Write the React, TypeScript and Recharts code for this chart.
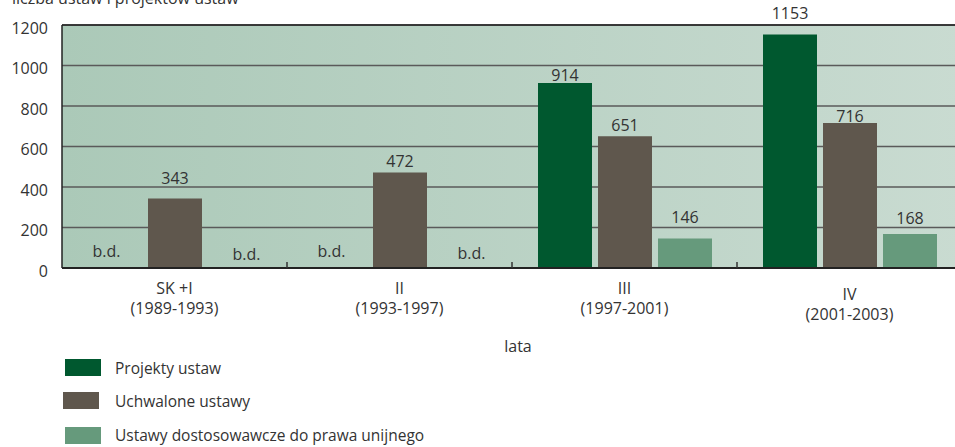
import React from 'react';
import { BarChart, Bar, XAxis, YAxis, CartesianGrid, ReferenceLine, LabelList } from 'recharts';

const kadencje = ['SK +I', 'II', 'III', 'IV'];
const okresy = ['(1989-1993)', '(1993-1997)', '(1997-2001)', '(2001-2003)'];
const projektyUstaw: (number | null)[] = [null, null, 914, 1153];
const uchwaloneUstawy: (number | null)[] = [343, 472, 651, 716];
const ustawyDostosowawcze: (number | null)[] = [null, null, 146, 168];
const yTicks = [0, 200, 400, 600, 800, 1000, 1200];
const yAxisTitle = 'liczba ustaw i projektów ustaw';
const xAxisTitle = 'lata';
const missingText = 'b.d.';

const FONT = '"Open Sans", "Noto Sans", sans-serif';
const TEXT = '#333333';
const BAR_SIZE = 54;
const BAR_GAP = 6;
const CHART_W = 975;
const CHART_H = 447;
const MARGIN = { top: 25, right: 13, left: 0, bottom: 89 };
const Y_AXIS_W = 62;
const X_AXIS_H = 90;
const PLOT_W = CHART_W - MARGIN.left - MARGIN.right - Y_AXIS_W;
const BAND = PLOT_W / kadencje.length;

const seriesDefs = [
  { key: 'projekty', name: 'Projekty ustaw', values: projektyUstaw, color: '#00582f', slot: -1, bdDx: -8, gaps: [11, 11, 2, 16] },
  { key: 'uchwalone', name: 'Uchwalone ustawy', values: uchwaloneUstawy, color: '#5f574d', slot: 0, bdDx: 0, gaps: [15, 5, 5, 1] },
  { key: 'dostosowawcze', name: 'Ustawy dostosowawcze do prawa unijnego', values: ustawyDostosowawcze, color: '#669a7c', slot: 1, bdDx: 12, gaps: [8, 9, 15, 10] },
];

const data = kadencje.map((k, i) => {
  const row: any = { kadencja: k, okres: okresy[i] };
  seriesDefs.forEach((s) => {
    row[s.key] = s.values[i] ?? 0;
  });
  return row;
});

const makeLabel = (s: any) => (props: any) => {
  const { x, y, width, value } = props;
  const idx = s.values.indexOf(Number(value));
  if (value == null || Number(value) === 0 || idx < 0) return null;
  const cx = Number(x) + Number(width) / 2;
  return (
    <text x={cx} y={Number(y) - s.gaps[idx]} textAnchor="middle" fontSize={16} fill={TEXT} fontFamily={FONT}>
      {String(value)}
    </text>
  );
};

const XTick = (props: any) => {
  const { x, y, index, payload } = props;
  const i = typeof index === 'number' ? index : kadencje.indexOf(payload.value);
  const shift = i === 3 ? 6 : 0;
  const bx = x + BAND / 2;
  return (
    <g>
      {i < kadencje.length - 1 ? (
        <line x1={bx} x2={bx} y1={y} y2={y - 6} stroke="#333" strokeWidth={1.5} />
      ) : null}
      {seriesDefs.map((s) =>
        s.values[i] == null ? (
          <text
            key={s.key}
            x={x + s.slot * (BAR_SIZE + BAR_GAP) + s.bdDx}
            y={y - s.gaps[i]}
            textAnchor="middle"
            fontSize={16}
            fill={TEXT}
            fontFamily={FONT}
          >
            {missingText}
          </text>
        ) : null
      )}
      <text x={x} y={y + 26 + shift} textAnchor="middle" fontSize={16} fill={TEXT} fontFamily={FONT}>
        {kadencje[i]}
      </text>
      <text x={x} y={y + 46 + shift} textAnchor="middle" fontSize={16} fill={TEXT} fontFamily={FONT}>
        {okresy[i]}
      </text>
    </g>
  );
};

const legendRows = [
  { x: 65, y: 359, ty: 374 },
  { x: 63, y: 392, ty: 407 },
  { x: 65, y: 427, ty: 441 },
];

export default function App() {
  return (
    <div style={{ position: 'absolute', left: 0, top: 0, width: 955, height: 447, overflow: 'hidden', background: '#fff' }}>
      <BarChart
        width={CHART_W}
        height={CHART_H}
        data={data}
        margin={MARGIN}
        barSize={BAR_SIZE}
        barGap={BAR_GAP}
      >
        <defs>
          <linearGradient id="bgGrad" x1="0" y1="0" x2="1" y2="0">
            <stop offset="0%" stopColor="#abc9b8" />
            <stop offset="100%" stopColor="#c9dbd1" />
          </linearGradient>
        </defs>
        <CartesianGrid vertical={false} stroke="#5a5a5a" strokeWidth={1.5} fill="url(#bgGrad)" fillOpacity={1} />
        <YAxis
          width={Y_AXIS_W}
          domain={[0, 1200]}
          ticks={yTicks}
          interval={0}
          tickSize={0}
          tickMargin={14}
          axisLine={{ stroke: '#222', strokeWidth: 1.5 }}
          tickLine={false}
          tick={{ fontSize: 16, fill: TEXT, fontFamily: FONT, dy: 3 }}
        />
        <XAxis
          dataKey="kadencja"
          height={X_AXIS_H}
          tickSize={0}
          tickMargin={0}
          tickLine={false}
          interval={0}
          axisLine={{ stroke: '#222', strokeWidth: 2 }}
          tick={<XTick />}
          label={{
            value: xAxisTitle,
            content: (p: any) => {
              const vb = p.viewBox || { x: 62, y: 268, width: 900, height: 90 };
              return (
                <text x={vb.x + vb.width / 2 + 6} y={vb.y + 84} textAnchor="middle" fontSize={16} fill={TEXT} fontFamily={FONT}>
                  {xAxisTitle}
                </text>
              );
            },
          }}
        />
        <ReferenceLine y={1200} stroke="#222" strokeWidth={1.5} />
        {seriesDefs.map((s) => (
          <Bar key={s.key} dataKey={s.key} name={s.name} fill={s.color} isAnimationActive={false}>
            <LabelList dataKey={s.key} content={makeLabel(s)} />
          </Bar>
        ))}
      </BarChart>
      <svg width={955} height={447} style={{ position: 'absolute', left: 0, top: 0, pointerEvents: 'none' }}>
        <text x={12} y={4} fontSize={16} fill={TEXT} fontFamily={FONT}>
          {yAxisTitle}
        </text>
        {seriesDefs.map((s, i) => (
          <g key={s.key}>
            <rect x={legendRows[i].x} y={legendRows[i].y} width={36} height={17} fill={s.color} />
            <text x={115} y={legendRows[i].ty} fontSize={15.5} fill={TEXT} fontFamily={FONT}>
              {s.name}
            </text>
          </g>
        ))}
      </svg>
    </div>
  );
}
